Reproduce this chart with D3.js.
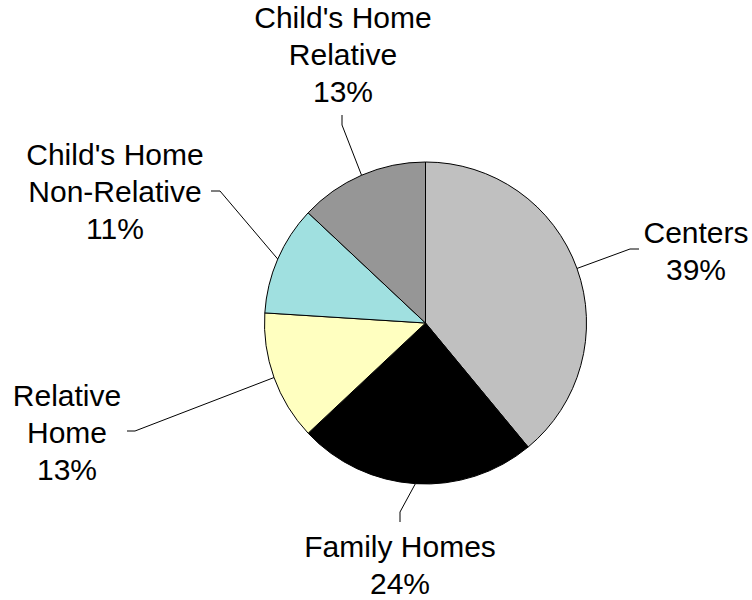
<!DOCTYPE html>
<html>
<head>
<meta charset="utf-8">
<script src="https://cdn.jsdelivr.net/npm/d3@7"></script>
<style>
  body { margin: 0; background: #fff; }
  svg text { font-family: Arial, "Liberation Sans", sans-serif; font-size: 30px; fill: #000; }
</style>
</head>
<body>
<svg id="chart" width="752" height="600"></svg>
<script>
// data, clockwise from 12 o'clock
const categories = ["Centers", "Family Homes", "Relative Home", "Child's Home Non-Relative", "Child's Home Relative"];
const labelLines = [["Centers"], ["Family Homes"], ["Relative", "Home"], ["Child's Home", "Non-Relative"], ["Child's Home", "Relative"]];
const shares = [39, 24, 13, 11, 13];

// layout only
const colors = ["#c0c0c0", "#000000", "#ffffc0", "#a0e0e0", "#969696"];
const labelCenter = [[696, 243], [400, 557], [67, 406], [115, 165], [343, 28]];
const elbows = [[[630, 249], [639, 249]], [[400, 512], [400, 522]], [[135, 431], [127, 431]],
                [[220, 191], [211, 191]], [[342, 125], [342, 115]]];
const cx = 425.5, cy = 323, r = 161, lineH = 37;

const svg = d3.select("#chart");
const g = svg.append("g").attr("transform", `translate(${cx},${cy})`);

const pie = d3.pie().sort(null).value(d => d);
const arcs = pie(shares);
const arc = d3.arc().innerRadius(0).outerRadius(r);
const edge = d3.arc().innerRadius(r).outerRadius(r);

g.selectAll("path.slice")
  .data(arcs)
  .enter()
  .append("path")
  .attr("class", "slice")
  .attr("d", arc)
  .attr("fill", (d, i) => colors[i])
  .attr("stroke", "#000")
  .attr("stroke-width", 1);

// leader lines
arcs.forEach((d, i) => {
  const p = edge.centroid(d);
  const pts = [[cx + p[0], cy + p[1]], ...elbows[i]];
  svg.append("path")
    .attr("d", d3.line()(pts))
    .attr("fill", "none")
    .attr("stroke", "#000")
    .attr("stroke-width", 1);
});

// labels
categories.forEach((c, i) => {
  const lines = labelLines[i].concat([d3.format(".0f")(shares[i]) + "%"]);
  const t = svg.append("text")
    .attr("text-anchor", "middle")
    .attr("x", labelCenter[i][0])
    .attr("y", labelCenter[i][1]);
  lines.forEach((s, k) => {
    t.append("tspan")
      .attr("x", labelCenter[i][0])
      .attr("dy", k === 0 ? 0 : lineH)
      .text(s);
  });
});
</script>
</body>
</html>
